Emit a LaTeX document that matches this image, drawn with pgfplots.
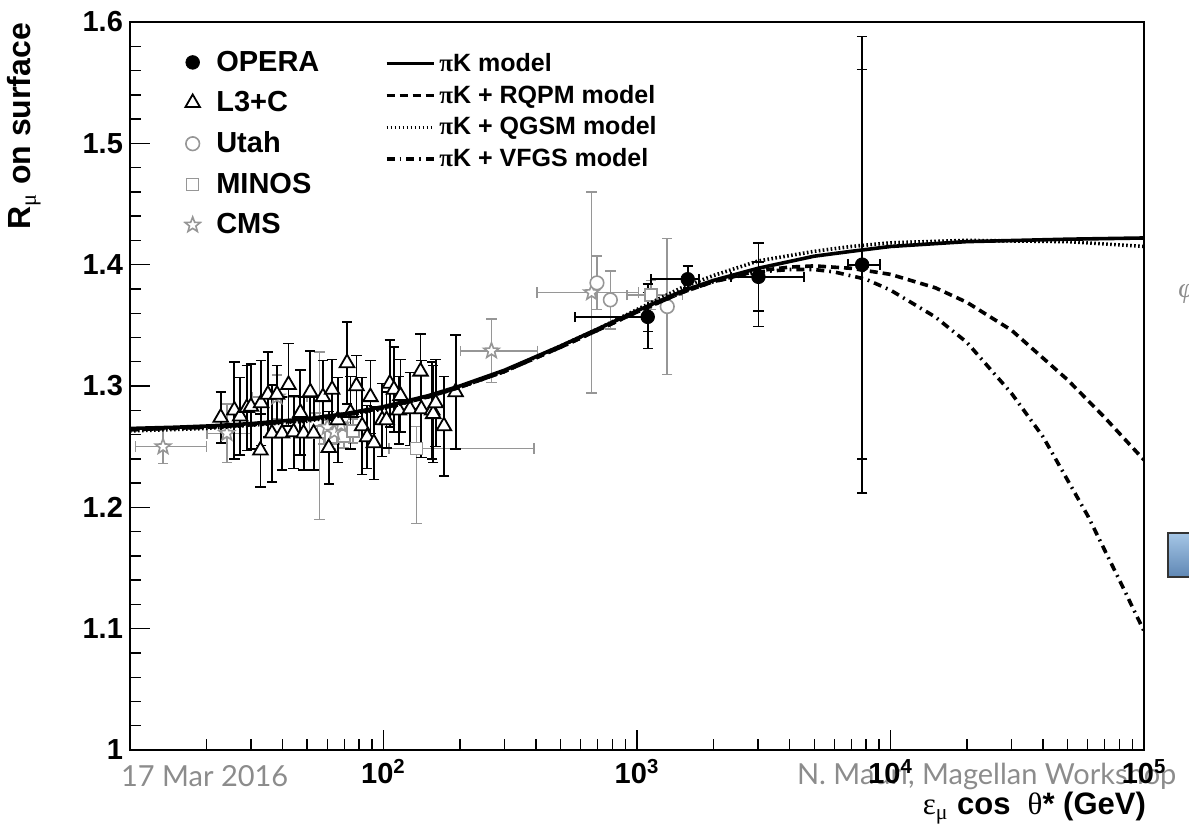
\documentclass[border=0pt]{standalone}
\usepackage{fontspec}
\setmainfont{Liberation Sans}
\newfontfamily\symf{Liberation Serif}
\newfontfamily\gill{Lato}
\usepackage{pgfplots}
\pgfplotsset{compat=1.18}
\definecolor{rgray}{RGB}{150,150,150}
\definecolor{fgray}{RGB}{140,140,140}
\definecolor{boxtop}{RGB}{165,198,230}
\definecolor{boxbot}{RGB}{95,135,180}
\pgfdeclareplotmark{ostar}{%
  \pgfpathmoveto{\pgfpointpolar{90}{\pgfplotmarksize}}%
  \pgfpathlineto{\pgfpointpolar{126}{0.42\pgfplotmarksize}}%
  \pgfpathlineto{\pgfpointpolar{162}{\pgfplotmarksize}}%
  \pgfpathlineto{\pgfpointpolar{198}{0.42\pgfplotmarksize}}%
  \pgfpathlineto{\pgfpointpolar{234}{\pgfplotmarksize}}%
  \pgfpathlineto{\pgfpointpolar{270}{0.42\pgfplotmarksize}}%
  \pgfpathlineto{\pgfpointpolar{306}{\pgfplotmarksize}}%
  \pgfpathlineto{\pgfpointpolar{342}{0.42\pgfplotmarksize}}%
  \pgfpathlineto{\pgfpointpolar{18}{\pgfplotmarksize}}%
  \pgfpathlineto{\pgfpointpolar{54}{0.42\pgfplotmarksize}}%
  \pgfpathclose\pgfusepathqfillstroke}
\pgfplotsset{
  errs/.style={error bars/x dir=both, error bars/x explicit, error bars/y dir=both, error bars/y explicit,
    error bars/error mark=-,
    error bars/error mark options={rotate=90, mark size=2.6pt, line width=0.8pt}},
}
\begin{document}
\begin{tikzpicture}
% slide footer texts (behind the plot)
\node[anchor=west, text=fgray, font=\gill\fontsize{14.5}{17}\selectfont] at (-8pt,-13pt) {17 Mar 2016};
\node[anchor=west, text=fgray, font=\gill\fontsize{14.5}{17}\selectfont] at (330pt,-13pt) {N. Mauri, Magellan Workshop};
\node[text=fgray, font=\symf\itshape\fontsize{14}{16}\selectfont] at (528pt,228pt) {φ};
\shade[top color=boxtop, bottom color=boxbot, draw=black!80, line width=1pt] (519pt,86.5pt) rectangle (545pt,108.5pt);

\begin{axis}[scale only axis, width=507pt, height=364pt, at={(0pt,0pt)}, anchor=south west,
  xmode=log, xmin=10, xmax=100000, ymin=1, ymax=1.6,
  xtick={10,100,1000,10000,100000},
  xticklabels={,{\textbf{10}\textsuperscript{\textbf{2}}},{\textbf{10}\textsuperscript{\textbf{3}}},{\textbf{10}\textsuperscript{\textbf{4}}},{\textbf{10}\textsuperscript{\textbf{5}}}},
  minor xtick={20,30,40,50,60,70,80,90,200,300,400,500,600,700,800,900,2000,3000,4000,5000,6000,7000,8000,9000,20000,30000,40000,50000,60000,70000,80000,90000},
  ytick={1,1.1,1.2,1.3,1.4,1.5,1.6}, minor y tick num=4,
  xtick pos=bottom, ytick pos=left, tick align=inside,
  major tick length=10pt, minor tick length=5.5pt,
  tick style={black, line width=0.7pt},
  axis line style={line width=1.1pt},
  tick label style={font=\fontsize{14.5}{17}\selectfont\bfseries},
  yticklabel style={/pgf/number format/assume math mode=true, /pgf/number format/fixed, /pgf/number format/precision=1},
  xticklabel style={yshift=-1pt},
  legend style={at={(rel axis cs:0.048,0.972)}, anchor=north west, draw=none, fill=none,
    font=\fontsize{14.5}{17}\selectfont\bfseries, row sep=4.6pt,
    /tikz/every odd column/.append style={column sep=6pt}},
  legend cell align=left,
]
% MINOS (gray squares)
\addplot[only marks, mark=square*, mark size=3pt, draw=rgray, mark options={fill=white, draw=rgray, line width=0.8pt}, errs, error bars/error bar style={rgray, line width=0.8pt}, forget plot] coordinates {
(54,1.268) += (2,0.010) -= (2,0.010)
(56,1.262) += (2,0.066) -= (2,0.072)
(58,1.262) += (2,0.010) -= (2,0.010)
(62,1.258) += (2,0.010) -= (2,0.010)
(66,1.264) += (2,0.010) -= (2,0.010)
(70,1.259) += (2,0.010) -= (2,0.010)
(76,1.263) += (3,0.010) -= (3,0.010)
(135,1.2486) += (258,0.018) -= (30,0.062)
(1135,1.375) += (379,0.012) -= (223,0.012)
};
% CMS (gray stars)
\addplot[only marks, mark=ostar, mark size=4pt, draw=rgray, mark options={fill=white, draw=rgray, line width=0.8pt}, errs, error bars/error bar style={rgray, line width=0.8pt}, forget plot] coordinates {
(13.5,1.250) += (6.5,0.014) -= (3.0,0.014)
(24.1,1.261) += (5.9,0.024) -= (4.0,0.024)
(38.0,1.291) += (11.9,0.018) -= (7.7,0.018)
(60,1.266) += (4,0.010) -= (4,0.010)
(64,1.262) += (4,0.010) -= (4,0.010)
(68,1.268) += (4,0.010) -= (4,0.010)
(266.6,1.329) += (138.4,0.026) -= (65.6,0.026)
(662,1.377) += (350,0.083) -= (259,0.083)
};
% Utah (gray open circles)
\addplot[only marks, mark=*, mark size=3.4pt, draw=rgray, mark options={fill=white, draw=rgray, line width=0.8pt}, errs, error bars/error bar style={rgray, line width=0.8pt}, forget plot] coordinates {
(695,1.385) += (0,0.022) -= (0,0.022)
(785,1.371) += (0,0.024) -= (0,0.024)
(1316,1.3655) += (0,0.056) -= (0,0.056)
};
% L3+C (open triangles)
\addplot[only marks, mark=triangle*, mark size=4.2pt, draw=black, mark options={fill=white, draw=black, line width=0.9pt}, errs, error bars/error bar style={black, line width=0.9pt}, forget plot] coordinates {
(22.8,1.274) +- (0,0.021)
(25.8,1.280) +- (0,0.040)
(27.2,1.275) +- (0,0.032)
(28.9,1.282) +- (0,0.035)
(30.0,1.283) +- (0,0.035)
(32.7,1.247) +- (0,0.030)
(32.9,1.286) +- (0,0.035)
(35.0,1.293) +- (0,0.035)
(36.3,1.261) +- (0,0.040)
(38.0,1.293) +- (0,0.024)
(39.8,1.261) +- (0,0.030)
(42.2,1.301) +- (0,0.034)
(44.2,1.262) +- (0,0.030)
(47.0,1.278) +- (0,0.035)
(48.4,1.261) +- (0,0.030)
(51.4,1.295) +- (0,0.034)
(53.0,1.261) +- (0,0.030)
(57.7,1.291) +- (0,0.030)
(60.8,1.249) +- (0,0.030)
(62.7,1.297) +- (0,0.025)
(66.0,1.272) +- (0,0.035)
(71.8,1.319) +- (0,0.034)
(74.1,1.278) +- (0,0.030)
(78.2,1.300) +- (0,0.025)
(82.4,1.267) +- (0,0.040)
(86.2,1.258) +- (0,0.026)
(88.8,1.291) +- (0,0.030)
(91.6,1.253) +- (0,0.030)
(98.8,1.272) +- (0,0.030)
(102.8,1.272) +- (0,0.023)
(105.9,1.302) +- (0,0.036)
(109.9,1.297) +- (0,0.035)
(115.0,1.280) +- (0,0.028)
(116.7,1.292) +- (0,0.030)
(127.1,1.281) +- (0,0.030)
(140,1.312) +- (0,0.031)
(141,1.281) +- (0,0.040)
(155.6,1.280) +- (0,0.040)
(157,1.277) +- (0,0.040)
(160.6,1.286) +- (0,0.036)
(173.2,1.267) +- (0,0.041)
(192.6,1.295) +- (0,0.047)
};
% OPERA inner (stat) ticks
\addplot[only marks, mark=none, draw=black, errs, error bars/error bar style={black, line width=0.8pt}, error bars/x dir=none, forget plot] coordinates {
(1102,1.357) += (0,0.020) -= (0,0.012)
(3013,1.390) += (0,0.012) -= (0,0.028)
(7730,1.400) += (0,0.161) -= (0,0.160)
};
% OPERA (filled circles)
\addplot[only marks, mark=*, mark size=3.4pt, black, errs, error bars/error bar style={black, line width=0.9pt}, forget plot] coordinates {
(1102,1.357) += (30,0.027) -= (533,0.026)
(1585,1.388) += (170,0.011) -= (450,0.007)
(3013,1.390) += (1547,0.028) -= (660,0.041)
(7730,1.400) += (1350,0.188) -= (930,0.188)
};
\addlegendimage{only marks, mark=*, mark size=3.4pt, black}
\addlegendentry{OPERA}
\addlegendimage{only marks, mark=triangle*, mark size=4.2pt, mark options={fill=white, draw=black, line width=0.9pt}}
\addlegendentry{L3+C}
\addlegendimage{only marks, mark=*, mark size=3.4pt, mark options={fill=white, draw=rgray, line width=0.8pt}}
\addlegendentry{Utah}
\addlegendimage{only marks, mark=square*, mark size=3pt, mark options={fill=white, draw=rgray, line width=0.8pt}}
\addlegendentry{MINOS}
\addlegendimage{only marks, mark=ostar, mark size=4pt, mark options={fill=white, draw=rgray, line width=0.8pt}}
\addlegendentry{CMS}
\end{axis}

\begin{axis}[scale only axis, width=507pt, height=364pt, at={(0pt,0pt)}, anchor=south west,
  xmode=log, xmin=10, xmax=100000, ymin=1, ymax=1.6, hide axis,
  legend style={at={(rel axis cs:0.245,0.969)}, anchor=north west, draw=none, fill=none,
    font=\fontsize{12.5}{15}\selectfont\bfseries, row sep=1.4pt},
  legend cell align=left,
  legend image code/.code={\draw[#1] (0pt,0pt) -- (23.5pt,0pt);},
]
\addplot[black, line width=1.8pt] table {
x y
10 1.265
15 1.266
20 1.267
30 1.269
50 1.273
70 1.277
100 1.283
150 1.292
200 1.300
300 1.313
500 1.333
700 1.347
1000 1.362
1500 1.378
2000 1.387
3000 1.397
5000 1.407
7000 1.411
10000 1.415
20000 1.419
50000 1.421
100000 1.422
};
\addlegendentry{{\symf π}K model}
\addplot[black, line width=1.8pt, dash pattern=on 4pt off 2.5pt] table {
x y
10 1.264
20 1.266
30 1.268
50 1.272
70 1.276
100 1.282
150 1.291
200 1.299
300 1.312
500 1.332
700 1.346
1000 1.361
1500 1.377
2000 1.386
3000 1.395
4000 1.398
5000 1.399
7000 1.397
10000 1.392
15000 1.381
20000 1.369
30000 1.346
50000 1.305
70000 1.274
100000 1.239
};
\addlegendentry{{\symf π}K + RQPM model}
\addplot[black, line width=1.8pt, dash pattern=on 0.8pt off 1.2pt] table {
x y
10 1.263
20 1.265
50 1.271
100 1.281
200 1.299
300 1.312
500 1.333
700 1.347
1000 1.363
1500 1.381
2000 1.391
3000 1.403
5000 1.411
7000 1.415
10000 1.418
20000 1.420
50000 1.419
100000 1.415
};
\addlegendentry{{\symf π}K + QGSM model}
\addplot[black, line width=1.8pt, dash pattern=on 4pt off 2.5pt on 0.9pt off 2.5pt] table {
x y
10 1.264
20 1.266
30 1.268
50 1.272
70 1.276
100 1.282
150 1.291
200 1.299
300 1.312
500 1.332
700 1.346
1000 1.361
1500 1.377
2000 1.386
3000 1.394
4000 1.396
5000 1.396
6000 1.394
8000 1.388
10000 1.379
15000 1.357
20000 1.336
30000 1.294
40000 1.258
60000 1.193
80000 1.140
100000 1.098
};
\addlegendentry{{\symf π}K + VFGS model}
\end{axis}

% axis titles
\node[rotate=90, anchor=east, font=\fontsize{16}{19}\selectfont\bfseries] at (-53pt,367pt) {R\textsubscript{\mdseries\symf μ} on surface};
\node[anchor=east, font=\fontsize{15.5}{18}\selectfont\bfseries] at (511.5pt,-29pt) {{\mdseries\symf ε}\textsubscript{\mdseries\symf μ} cos\ \ {\mdseries\symf θ}* (GeV)};

\pgfresetboundingbox
\path[use as bounding box] (-65pt,-43.5pt) rectangle (529.5pt,375pt);
\end{tikzpicture}
\end{document}
